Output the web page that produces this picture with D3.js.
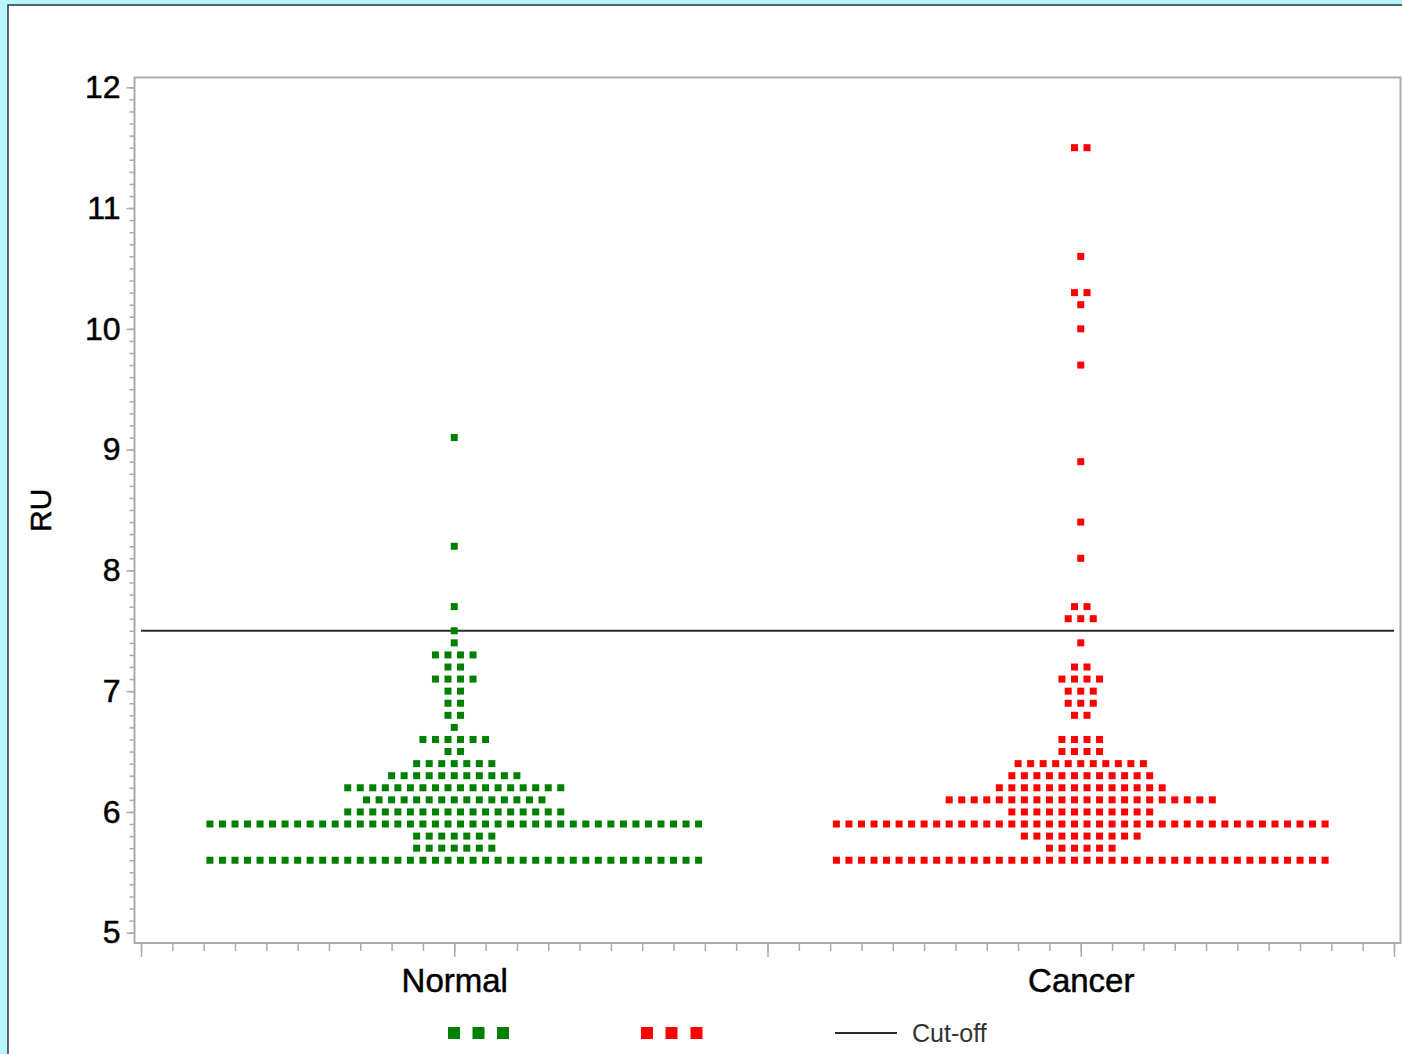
<!DOCTYPE html>
<html>
<head>
<meta charset="utf-8">
<script src="https://cdn.jsdelivr.net/npm/d3@7/dist/d3.min.js"></script>
<style>
  html, body { margin: 0; padding: 0; background: #b9f5fd; }
  svg { display: block; }
  text { font-family: "Liberation Sans", Arial, sans-serif; }
</style>
</head>
<body>
<svg id="chart" width="1402" height="1054"></svg>
<script>
// Groups shown along the x axis
const categories = ["Normal", "Cancer"];

// RU values (binned to 0.1) and how many subjects fall in each bin
const normalRU     = [5.6, 5.7, 5.8, 5.9, 6.0, 6.1, 6.2, 6.3, 6.4, 6.5, 6.6, 6.7, 6.8, 6.9, 7.0, 7.1, 7.2, 7.3, 7.4, 7.5, 7.7, 8.2, 9.1];
const normalCounts = [40,  7,   7,   40,  18,  15,  18,  11,  7,   2,   6,   1,   2,   2,   2,   4,   2,   4,   1,   1,   1,   1,   1];

const cancerRU     = [5.6, 5.7, 5.8, 5.9, 6.0, 6.1, 6.2, 6.3, 6.4, 6.5, 6.6, 6.8, 6.9, 7.0, 7.1, 7.2, 7.4, 7.6, 7.7, 8.1, 8.4, 8.9, 9.7, 10.0, 10.2, 10.3, 10.6, 11.5];
const cancerCounts = [40,  6,   10,  40,  12,  22,  14,  12,  11,  4,   4,   2,   3,   3,   4,   2,   1,   3,   2,   1,   1,   1,   1,   1,    1,    2,    1,    2];

// Diagnostic threshold
const cutoff = 7.5;
const cutoffLabel = "Cut-off";

// Axis ticks
const yTicks = [5, 6, 7, 8, 9, 10, 11, 12];
const yLabel = "RU";

const groupColors = ["#008000", "#ff0000"];

const svg = d3.select("#chart");
const W = 1402, H = 1054;

// page background and white panel
svg.append("rect").attr("width", W).attr("height", H).attr("fill", "#b9f5fd");
svg.append("rect")
  .attr("x", 8).attr("y", 5).attr("width", W).attr("height", H)
  .attr("fill", "#ffffff").attr("stroke", "#2e3436").attr("stroke-width", 1.5);

const frame = { left: 134.5, right: 1400.5, top: 77.5, bottom: 943 };

const x = d3.scaleLinear().domain([0.5, 2.5]).range([141, 1394]);
const y = d3.scaleLinear().domain([5, 12]).range([932.7, 87.3]);

const axisColor = "#a8acb0";
const labelFont = "'Liberation Sans', Arial, sans-serif";

// plot frame
svg.append("rect")
  .attr("x", frame.left).attr("y", frame.top)
  .attr("width", frame.right - frame.left).attr("height", frame.bottom - frame.top)
  .attr("fill", "none").attr("stroke", axisColor).attr("stroke-width", 2);

// y axis: major ticks with labels, minor ticks every 0.1
const yMinor = d3.range(50, 121).map(d => d / 10);
const yAxisMinor = d3.axisLeft(y).tickValues(yMinor).tickSize(5).tickFormat("");
const yAxisMajor = d3.axisLeft(y).tickValues(yTicks).tickSize(8).tickPadding(6).tickFormat(d3.format("d"));

const gyMinor = svg.append("g").attr("transform", `translate(${frame.left},0)`).call(yAxisMinor);
const gyMajor = svg.append("g").attr("transform", `translate(${frame.left},0)`).call(yAxisMajor);
[gyMinor, gyMajor].forEach(g => {
  g.select(".domain").remove();
  g.selectAll("line").attr("stroke", axisColor).attr("stroke-width", 1.5);
});
gyMajor.selectAll("text")
  .attr("font-size", 32).attr("fill", "#000")
  .attr("stroke", "#000").attr("stroke-width", 0.5)
  .attr("font-family", labelFont);

// x axis: category labels at 1 and 2, minor ticks every 0.05
const xMinor = d3.range(10, 51).map(d => d / 20);
const xMajor = [0.5, 1, 1.5, 2, 2.5];
const xAxisMinor = d3.axisBottom(x).tickValues(xMinor).tickSize(8).tickFormat("");
const xAxisMajor = d3.axisBottom(x).tickValues(xMajor).tickSize(14).tickPadding(12)
  .tickFormat(d => (d === 1 ? categories[0] : d === 2 ? categories[1] : ""));

const gxMinor = svg.append("g").attr("transform", `translate(0,${frame.bottom})`).call(xAxisMinor);
const gxMajor = svg.append("g").attr("transform", `translate(0,${frame.bottom})`).call(xAxisMajor);
[gxMinor, gxMajor].forEach(g => {
  g.select(".domain").remove();
  g.selectAll("line").attr("stroke", axisColor).attr("stroke-width", 1.5);
});
gxMajor.selectAll("text")
  .attr("font-size", 33).attr("fill", "#000")
  .attr("stroke", "#000").attr("stroke-width", 0.5)
  .attr("font-family", labelFont);

// y axis title
svg.append("text")
  .attr("transform", `translate(51,${(frame.top + frame.bottom) / 2}) rotate(-90)`)
  .attr("text-anchor", "middle")
  .attr("font-size", 30).attr("fill", "#000")
  .attr("stroke", "#000").attr("stroke-width", 0.5)
  .text(yLabel);

// cut-off reference line
svg.append("line")
  .attr("x1", x(0.5)).attr("x2", x(2.5))
  .attr("y1", y(cutoff)).attr("y2", y(cutoff))
  .attr("stroke", "#2b2b2b").attr("stroke-width", 1.8);

// stack each bin's points side by side around the group centre
const step = 0.02;
function expand(values, counts, g) {
  const pts = [];
  values.forEach((v, k) => {
    const n = counts[k];
    for (let i = 0; i < n; i++) {
      pts.push({ group: g, value: v, dx: (i - (n - 1) / 2) * step });
    }
  });
  return pts;
}
const points = expand(normalRU, normalCounts, 0).concat(expand(cancerRU, cancerCounts, 1));

const size = 7;
svg.append("g").selectAll("rect")
  .data(points)
  .join("rect")
  .attr("x", d => x(d.group + 1 + d.dx) - size / 2)
  .attr("y", d => y(d.value) - size / 2)
  .attr("width", size).attr("height", size)
  .attr("fill", d => groupColors[d.group]);

// legend
const legendY = 1033;
const leg = svg.append("g");
const legendMarkers = [
  { color: groupColors[0], xs: [454, 478.5, 503] },
  { color: groupColors[1], xs: [647, 671.5, 696.5] }
];
legendMarkers.forEach(m => {
  leg.selectAll(null).data(m.xs).join("rect")
    .attr("x", d => d - 6).attr("y", legendY - 6)
    .attr("width", 12).attr("height", 12)
    .attr("fill", m.color);
});
leg.append("line")
  .attr("x1", 835).attr("x2", 897).attr("y1", legendY).attr("y2", legendY)
  .attr("stroke", "#2b2b2b").attr("stroke-width", 1.8);
leg.append("text")
  .attr("x", 912).attr("y", legendY + 9)
  .attr("font-size", 25).attr("fill", "#333")
  .text(cutoffLabel);
</script>
</body>
</html>
